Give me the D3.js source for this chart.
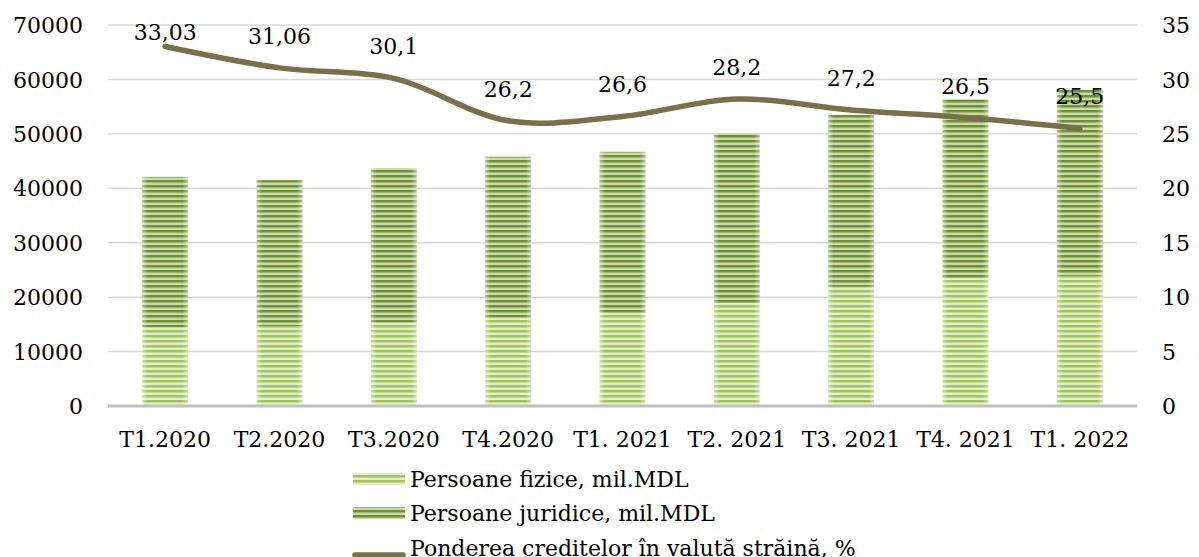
<!DOCTYPE html>
<html>
<head>
<meta charset="utf-8">
<script src="https://cdn.jsdelivr.net/npm/d3@7"></script>
<style>
  body { margin: 0; background: #fff; }
  svg text { font-family: "DejaVu Serif", serif; fill: #000; }
</style>
</head>
<body>
<div id="chart"></div>
<script>
// data
const categories = ["T1.2020", "T2.2020", "T3.2020", "T4.2020", "T1. 2021", "T2. 2021", "T3. 2021", "T4. 2021", "T1. 2022"];
const fizice = [14500, 14700, 15300, 16200, 17100, 18900, 21900, 23500, 23900];
const juridice = [27600, 26800, 28400, 29600, 29600, 31200, 31600, 32900, 34200];
const pondere = [33.03, 31.06, 30.1, 26.2, 26.6, 28.2, 27.2, 26.5, 25.5];
const pondereLabels = ["33,03", "31,06", "30,1", "26,2", "26,6", "28,2", "27,2", "26,5", "25,5"];
const leftTicks = [0, 10000, 20000, 30000, 40000, 50000, 60000, 70000];
const rightTicks = [0, 5, 10, 15, 20, 25, 30, 35];
const legendNames = ["Persoane fizice, mil.MDL", "Persoane juridice, mil.MDL", "Ponderea creditelor în valută străină, %"];

const width = 1199, height = 557;
const margin = { top: 25, right: 62, bottom: 151, left: 108 };

let svg = d3.select("#chart").append("svg")
    .attr("width", width)
    .attr("height", height);

let defs = svg.append("defs");

// striped fills
function stripePattern(id, dark, mid, light) {
    let p = defs.append("pattern")
        .attr("id", id)
        .attr("patternUnits", "userSpaceOnUse")
        .attr("width", 8)
        .attr("height", 5);
    p.append("rect").attr("width", 8).attr("height", 5).attr("fill", light);
    p.append("rect").attr("y", 0).attr("width", 8).attr("height", 2).attr("fill", dark);
    p.append("rect").attr("y", 2).attr("width", 8).attr("height", 1).attr("fill", mid);
}
stripePattern("pat-fiz", "#a3c45c", "#c3d88f", "#e2edcb");
stripePattern("pat-jur", "#6f8f38", "#9db46c", "#c9d9a8");

// soft glow at the bar edges
let glow = defs.append("linearGradient").attr("id", "edge-glow");
glow.append("stop").attr("offset", "0%").attr("stop-color", "#fff").attr("stop-opacity", 0.45);
glow.append("stop").attr("offset", "12%").attr("stop-color", "#fff").attr("stop-opacity", 0);
glow.append("stop").attr("offset", "88%").attr("stop-color", "#fff").attr("stop-opacity", 0);
glow.append("stop").attr("offset", "100%").attr("stop-color", "#fff").attr("stop-opacity", 0.45);

let x = d3.scaleBand()
    .domain(categories)
    .range([margin.left, width - margin.right - 0])
    .paddingInner(0.6)
    .paddingOuter(0.3);

let y = d3.scaleLinear()
    .domain([0, 70000])
    .range([height - margin.bottom, margin.top]);

let yR = d3.scaleLinear()
    .domain([0, 35])
    .range([height - margin.bottom, margin.top]);

// gridlines
svg.append("g")
    .selectAll("line")
    .data(leftTicks.filter(d => d > 0))
    .enter()
    .append("line")
    .attr("x1", margin.left)
    .attr("x2", width - margin.right)
    .attr("y1", d => y(d))
    .attr("y2", d => y(d))
    .attr("stroke", "#d9d9d9")
    .attr("stroke-width", 1.5);

// left axis
let leftAxis = svg.append("g")
    .attr("transform", `translate(${margin.left - 25},0)`)
    .call(d3.axisLeft(y).tickValues(leftTicks).tickSize(0).tickPadding(0).tickFormat(d3.format("d")));
leftAxis.select(".domain").remove();
leftAxis.selectAll("text").style("font-size", "22px").attr("dy", "0.35em");

// right axis
let rightAxis = svg.append("g")
    .attr("transform", `translate(${width - margin.right + 25},0)`)
    .call(d3.axisRight(yR).tickValues(rightTicks).tickSize(0).tickPadding(0));
rightAxis.select(".domain").remove();
rightAxis.selectAll("text").style("font-size", "22px").attr("dy", "0.35em");

// stacked bars
let barData = categories.map((c, i) => ({ cat: c, fiz: fizice[i], jur: juridice[i] }));
let bars = svg.append("g");
bars.selectAll(".bar-fiz")
    .data(barData)
    .enter()
    .append("rect")
    .attr("class", "bar-fiz")
    .attr("x", d => x(d.cat))
    .attr("width", x.bandwidth())
    .attr("y", d => y(d.fiz))
    .attr("height", d => y(0) - y(d.fiz))
    .attr("fill", "url(#pat-fiz)");
bars.selectAll(".bar-jur")
    .data(barData)
    .enter()
    .append("rect")
    .attr("class", "bar-jur")
    .attr("x", d => x(d.cat))
    .attr("width", x.bandwidth())
    .attr("y", d => y(d.fiz + d.jur))
    .attr("height", d => y(d.fiz) - y(d.fiz + d.jur))
    .attr("fill", "url(#pat-jur)");
bars.selectAll(".bar-glow")
    .data(barData)
    .enter()
    .append("rect")
    .attr("class", "bar-glow")
    .attr("x", d => x(d.cat))
    .attr("width", x.bandwidth())
    .attr("y", d => y(d.fiz + d.jur))
    .attr("height", d => y(0) - y(d.fiz + d.jur))
    .attr("fill", "url(#edge-glow)");

// baseline
svg.append("line")
    .attr("x1", margin.left)
    .attr("x2", width - margin.right)
    .attr("y1", y(0))
    .attr("y2", y(0))
    .attr("stroke", "#bfbfbf")
    .attr("stroke-width", 3);

// category labels
svg.append("g")
    .selectAll("text")
    .data(categories)
    .enter()
    .append("text")
    .attr("x", d => x(d) + x.bandwidth() / 2)
    .attr("y", y(0) + 41)
    .attr("text-anchor", "middle")
    .style("font-size", "22px")
    .text(d => d);

// share line
let lineData = categories.map((c, i) => ({ cat: c, v: pondere[i], label: pondereLabels[i] }));
let line = d3.line()
    .x(d => x(d.cat) + x.bandwidth() / 2)
    .y(d => yR(d.v))
    .curve(d3.curveCatmullRom.alpha(0.5));
svg.append("path")
    .datum(lineData)
    .attr("fill", "none")
    .attr("stroke", "#77704a")
    .attr("stroke-width", 5.5)
    .attr("stroke-linecap", "round")
    .attr("d", line);

// value labels, kept inside the plot top
svg.append("g")
    .selectAll("text")
    .data(lineData)
    .enter()
    .append("text")
    .attr("x", d => x(d.cat) + x.bandwidth() / 2)
    .attr("y", d => Math.max(yR(d.v) - 24, yR(35) + 15))
    .attr("text-anchor", "middle")
    .style("font-size", "22px")
    .text(d => d.label);

// legend
let legend = svg.append("g").attr("transform", "translate(353,0)");
let rows = [487, 521, 556];
legend.append("rect").attr("x", 0).attr("y", rows[0] - 14).attr("width", 52).attr("height", 12).attr("fill", "url(#pat-fiz)");
legend.append("rect").attr("x", 0).attr("y", rows[1] - 14).attr("width", 52).attr("height", 12).attr("fill", "url(#pat-jur)");
legend.append("line").attr("x1", 2).attr("x2", 50).attr("y1", rows[2] - 1).attr("y2", rows[2] - 1)
    .attr("stroke", "#77704a").attr("stroke-width", 5.5).attr("stroke-linecap", "round");
legend.selectAll(".leg-text")
    .data(legendNames)
    .enter()
    .append("text")
    .attr("class", "leg-text")
    .attr("x", 57)
    .attr("y", (d, i) => rows[i])
    .style("font-size", "22px")
    .text(d => d);
</script>
</body>
</html>
